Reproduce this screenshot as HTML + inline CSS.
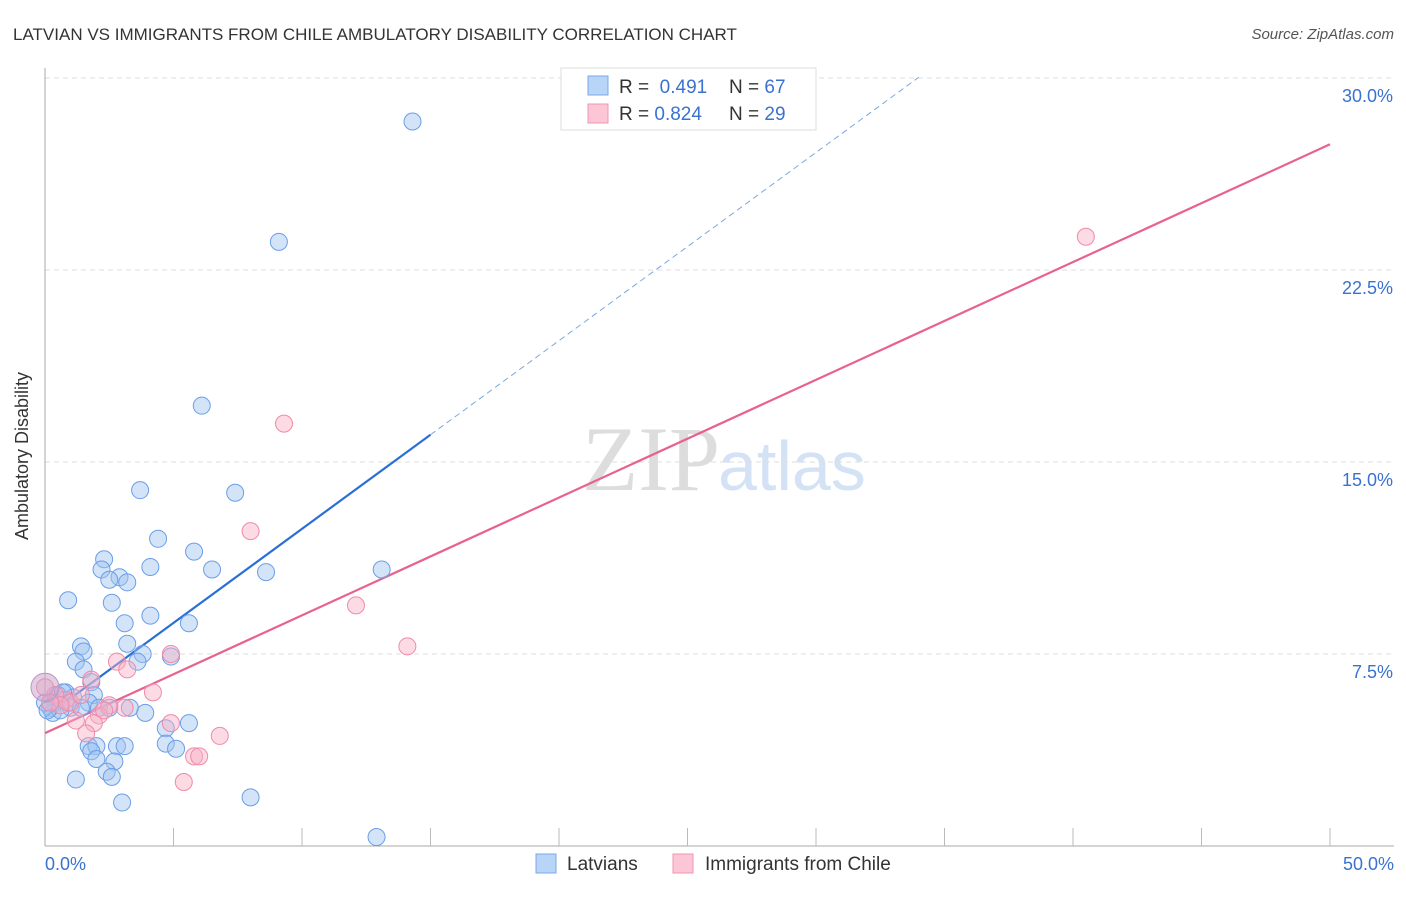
<!DOCTYPE html>
<html><head><meta charset="utf-8"><style>
body{margin:0;background:#fff;font-family:"Liberation Sans",sans-serif}
</style></head><body>
<svg id="chart" width="1406" height="892" xmlns="http://www.w3.org/2000/svg">
<text x="13" y="40" font-size="17" fill="#333">LATVIAN VS IMMIGRANTS FROM CHILE AMBULATORY DISABILITY CORRELATION CHART</text>
<text x="1394" y="39" font-size="15" fill="#555" font-style="italic" text-anchor="end">Source: ZipAtlas.com</text>
<text x="28" y="456" font-size="18" fill="#333" transform="rotate(-90 28 456)" text-anchor="middle">Ambulatory Disability</text>
<text x="720" y="490" font-size="92" fill="#ddd" font-family="Liberation Serif,serif" text-anchor="end">ZIP</text>
<text x="718" y="490" font-size="70" fill="#d4e2f5">atlas</text>
<g id="grid"></g><g id="axes"></g><g id="lines"></g><g id="pts"></g>
<g>
<rect x="561" y="68" width="255" height="62" fill="#fff" stroke="#ddd"/>
<rect x="588" y="76" width="20" height="19" fill="#b8d4f6" stroke="#7aa8e8"/>
<rect x="588" y="104" width="20" height="19" fill="#fcc6d6" stroke="#f096b2"/>
<text x="619" y="93" font-size="19" fill="#333">R = <tspan fill="#3a72d0">&#160;0.491</tspan><tspan x="729">N = </tspan><tspan fill="#3a72d0">67</tspan></text>
<text x="619" y="120" font-size="19" fill="#333">R = <tspan fill="#3a72d0">0.824</tspan><tspan x="729">N = </tspan><tspan fill="#3a72d0">29</tspan></text>
</g>
<g>
<rect x="536" y="854" width="20" height="19" fill="#b8d4f6" stroke="#7aa8e8"/>
<text x="567" y="870" font-size="19" fill="#333">Latvians</text>
<rect x="673" y="854" width="20" height="19" fill="#fcc6d6" stroke="#f096b2"/>
<text x="705" y="870" font-size="19" fill="#333">Immigrants from Chile</text>
</g>
</svg>
<script>
const NS="http://www.w3.org/2000/svg";
const yTicks=[7.5,15,22.5,30];
const yTickLabels=["7.5%","15.0%","22.5%","30.0%"];
const xTickValues=[5,10,15,20,25,30,35,40,45,50];
const xEndLabels=["0.0%","50.0%"];
const latviansX=[14.3,9.1,6.1,3.7,7.4,4.4,5.8,2.3,2.2,4.1,2.9,6.5,8.6,13.1,2.5,3.2,0.9,2.6,4.1,3.1,5.6,1.4,3.2,1.5,3.8,4.9,1.2,1.5,3.6,1.8,1.9,0.8,1.1,0.6,0.4,0.2,1.0,1.7,2.1,3.3,3.9,5.6,4.7,1.7,2.0,2.8,3.1,4.7,5.1,1.8,2.0,2.7,2.4,2.6,1.2,8.0,3.0,12.9,0.3,0.6,0.0,1.4,0.5,0.9,0.7,0.1,2.5];
const latviansY=[28.3,23.6,17.2,13.9,13.8,12.0,11.5,11.2,10.8,10.9,10.5,10.8,10.7,10.8,10.4,10.3,9.6,9.5,9.0,8.7,8.7,7.8,7.9,7.6,7.5,7.4,7.2,6.9,7.2,6.4,5.9,6.0,5.8,5.7,5.6,5.4,5.4,5.6,5.4,5.4,5.2,4.8,4.6,3.9,3.9,3.9,3.9,4.0,3.8,3.7,3.4,3.3,2.9,2.7,2.6,1.9,1.7,0.35,5.2,5.3,5.6,5.4,5.9,5.6,6.0,5.3,5.4];
const chileX=[40.5,9.3,8.0,12.1,14.1,2.8,4.9,3.2,4.2,1.8,6.8,5.8,6.0,5.4,3.1,2.5,2.1,1.9,1.6,1.2,4.9,0.8,0.4,0.0,1.0,1.4,0.6,2.3,0.2];
const chileY=[23.8,16.5,12.3,9.4,7.8,7.2,7.5,6.9,6.0,6.5,4.3,3.5,3.5,2.5,5.4,5.5,5.1,4.8,4.4,4.9,4.8,5.7,5.9,6.2,5.6,5.9,5.5,5.3,5.6];
const blueFit=[5.04,0.735]; // intercept, slope
const pinkFit=[4.41,0.46];
const X=v=>45+v*25.7, Y=v=>846-v*25.6;
function mk(tag,attrs,parent){const e=document.createElementNS(NS,tag);for(const k in attrs)e.setAttribute(k,attrs[k]);document.getElementById(parent).appendChild(e);return e;}
yTicks.forEach((t,i)=>{
 const l=mk("line",{x1:45,x2:1394,y1:Y(t),y2:Y(t),stroke:"#ddd","stroke-dasharray":"5,4"},"grid");
 
 
 const tx=mk("text",{x:1393,y:Y(t)+24,"font-size":18,fill:"#3a72d0","text-anchor":"end"},"grid");
 tx.textContent=yTickLabels[i];
 
 
});
const ax=mk("line",{x1:45,x2:1394,y1:846,y2:846,stroke:"#aaa"},"axes");


const ay=mk("line",{x1:45,x2:45,y1:68,y2:846,stroke:"#aaa"},"axes");


xTickValues.forEach(t=>{
 const l=mk("line",{x1:X(t),x2:X(t),y1:828,y2:846,stroke:"#bbb"},"axes");
 
 
});
[[0,"start",45],[50,"end",1394]].forEach((d,i)=>{
 const tx=mk("text",{x:d[2],y:870,"font-size":18,fill:"#3a72d0","text-anchor":d[1]},"axes");
 tx.textContent=xEndLabels[i];
 
 
});
function pts(xs,ys,fill,stroke,name){xs.forEach((x,i)=>{
 const c=mk("circle",{cx:X(x),cy:Y(ys[i]),r:8.5,fill:fill,stroke:stroke,"stroke-width":1},"pts");
 
 
});}
pts(latviansX,latviansY,"rgba(160,196,240,0.45)","#6a9ee8","latvian-point");
pts(chileX,chileY,"rgba(248,176,198,0.45)","#f08aa8","chile-point");
const big=mk("circle",{cx:X(0),cy:Y(6.2),r:14,fill:"rgba(200,160,200,0.5)",stroke:"#c090c0"},"pts");


const bl=mk("line",{x1:X(0),y1:Y(blueFit[0]),x2:X(15),y2:Y(blueFit[0]+blueFit[1]*15),stroke:"#2a6fd6","stroke-width":2.2},"lines");


const bd=mk("line",{x1:X(15),y1:Y(blueFit[0]+blueFit[1]*15),x2:X(34),y2:Y(blueFit[0]+blueFit[1]*34),stroke:"#7aa8e0","stroke-width":1,"stroke-dasharray":"6,4"},"lines");


const pl=mk("line",{x1:X(0),y1:Y(pinkFit[0]),x2:X(50),y2:Y(pinkFit[0]+pinkFit[1]*50),stroke:"#e8628e","stroke-width":2.2},"lines");


</script>
</body></html>
